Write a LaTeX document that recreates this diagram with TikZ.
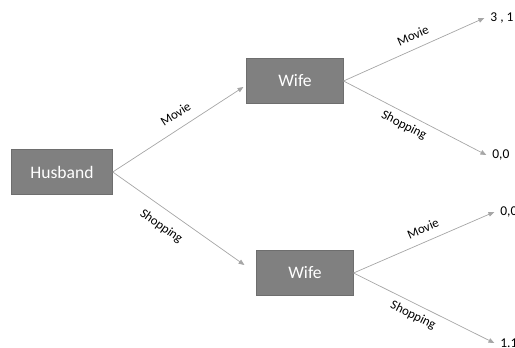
\documentclass[tikz,border=0pt]{standalone}
\usepackage{fontspec}
\setmainfont{Carlito}
\usetikzlibrary{arrows.meta}
\tikzset{
  player/.style={draw=black!57, fill=black!50, text=white!94, minimum width=2.9cm, minimum height=1.35cm, font=\fontsize{15}{17}\selectfont, inner sep=0pt},
  branch/.style={->, draw=black!35, line width=0.6pt},
  move/.style={font=\fontsize{11}{13}\selectfont, sloped, inner sep=2pt},
  payoff/.style={anchor=west, font=\fontsize{11.5}{13}\selectfont, inner sep=1pt}
}
\begin{document}
\begin{tikzpicture}[x=0.03cm, y=-0.03cm, >={Triangle[length=5pt, width=4pt]}]
  \useasboundingbox (0,0) rectangle (515,348);
  % players
  \node[player, minimum width=3.03cm] (h) at (62,172) {Husband};
  \node[player] (wt) at (295,81) {Wife};
  \node[player] (wb) at (305,273) {Wife};
  % payoffs
  \node[payoff] (p1) at (489,18) {3 , 1};
  \node[payoff] (p2) at (491,155) {0,0};
  \node[payoff] (p3) at (499,212) {0,0};
  \node[payoff] (p4) at (499,343) {1.1};
  % husband's moves
  \draw[branch] (h.east) -- ([shift={(-3,6)}]wt.west) node[move, pos=0.54, above=6pt] {Movie};
  \draw[branch] (h.east) -- ([shift={(-12,-8)}]wb.west) node[move, pos=0.44, below=7pt] {Shopping};
  % wife's moves
  \foreach \w / \a / \b in {wt/p1/p2, wb/p3/p4} {
    \draw[branch] (\w.east) -- ([xshift=-4pt]\a.west) node[move, pos=0.53, above=5pt] {Movie};
    \draw[branch] (\w.east) -- ([xshift=-4pt]\b.west) node[move, pos=0.46, below=3pt] {Shopping};
  }
\end{tikzpicture}
\end{document}
